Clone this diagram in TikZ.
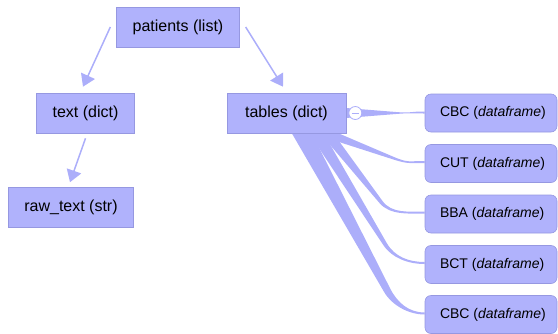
\documentclass[tikz,border=0pt]{standalone}
\usepackage{fontspec}
\setmainfont{Liberation Sans}
\usetikzlibrary{calc,arrows.meta}
\definecolor{boxfill}{RGB}{176,178,252}
\definecolor{boxline}{RGB}{150,152,225}
\definecolor{conn}{RGB}{172,174,250}
\pgfdeclarelayer{bg}
\pgfsetlayers{bg,main}
% tapered connector: #1 start, #2 bend point, #3 end, #4 half width at start, #5 half width at bend
\newcommand\tband[5]{%
  \coordinate (tS) at #1;
  \coordinate (tP) at #2;
  \coordinate (tE) at #3;
  \coordinate (a1) at ($(tS)!#4!90:(tP)$);
  \coordinate (a2) at ($(tP)!#5!-90:(tS)$);
  \coordinate (b1) at ($(tS)!#4!-90:(tP)$);
  \coordinate (b2) at ($(tP)!#5!90:(tS)$);
  \fill[conn] (a1) -- (a2)
     .. controls ($(a2)!-16pt!(a1)$) and ($(tE)+(-16,-1)$) .. ($(tE)+(0,-1)$)
     -- ($(tE)+(0,1)$)
     .. controls ($(tE)+(-16,1)$) and ($(b2)!-16pt!(b1)$) .. (b2) -- (b1) -- cycle;
}
\newcommand\dflabel[1]{\makebox[132pt][l]{\hspace{15pt}#1 (\textit{dataframe})}}
\begin{document}
\begin{tikzpicture}[x=1pt,y=-1pt,
  rbox/.style={rectangle, fill=boxfill, draw=boxline, line width=0.6pt,
    minimum height=40pt, inner xsep=16pt, inner ysep=0pt,
    font=\fontsize{16}{19}\selectfont, text=black},
  dfbox/.style={rectangle, rounded corners=6pt, fill=boxfill, draw=boxline,
    line width=0.6pt, minimum width=132pt, minimum height=38pt, inner sep=0pt,
    font=\fontsize{14}{17}\selectfont, text=black},
  arr/.style={draw=conn, line width=1.5pt, -{Triangle[length=12pt,width=15pt]}},
  toggle/.style={circle, draw=conn, fill=white, line width=0.8pt,
    minimum size=13pt, inner sep=0pt}
]
\useasboundingbox (0,0) rectangle (558,333);

\node[rbox] (patients) at (178,27) {patients (list)};
\node[rbox] (txt) at (85.5,113) {text (dict)};
\node[rbox] (raw) at (71,207.5) {raw\_text (str)};
\node[rbox, minimum width=119pt] (tables) at (286.5,113) {tables (dict)};

\node[dfbox] (cbc1) at (491,113) {\dflabel{CBC}};
\node[dfbox] (cut) at (491,163.5) {\dflabel{CUT}};
\node[dfbox] (bba) at (491,214) {\dflabel{BBA}};
\node[dfbox] (bct) at (491,264.5) {\dflabel{BCT}};
\node[dfbox] (cbc2) at (491,314.5) {\dflabel{CBC}};

\draw[arr] ($(patients.west)+(-6,0)$) -- ($(txt.north)+(-2.5,-6)$);
\draw[arr] ($(patients.east)+(6,0)$) -- ($(tables.north)+(-3.5,-6)$);
\draw[arr] ($(txt.south)+(0,5)$) -- ($(raw.north)+(-1,-5)$);

\begin{pgfonlayer}{bg}
\tband{(346,113)}{(396,113)}{($(cbc1.west)+(0,-0.5)$)}{5pt}{1pt}
\tband{(318,130)}{(393,158)}{($(cut.west)+(0,-1.5)$)}{5pt}{1.3pt}
\tband{(322,127)}{(381,202)}{($(bba.west)+(0,-1.5)$)}{5.5pt}{1.8pt}
\tband{(312,126)}{(385,244)}{($(bct.west)+(0,-1.5)$)}{6.5pt}{2pt}
\tband{(298,126)}{(387,290)}{($(cbc2.west)+(0,-1)$)}{9pt}{3.5pt}
\end{pgfonlayer}

\node[toggle] (tog) at ($(tables.east)+(9,0)$) {};
\draw[conn, line width=1pt] ($(tog.center)+(-3.5,0)$) -- ($(tog.center)+(3.5,0)$);
\end{tikzpicture}
\end{document}
